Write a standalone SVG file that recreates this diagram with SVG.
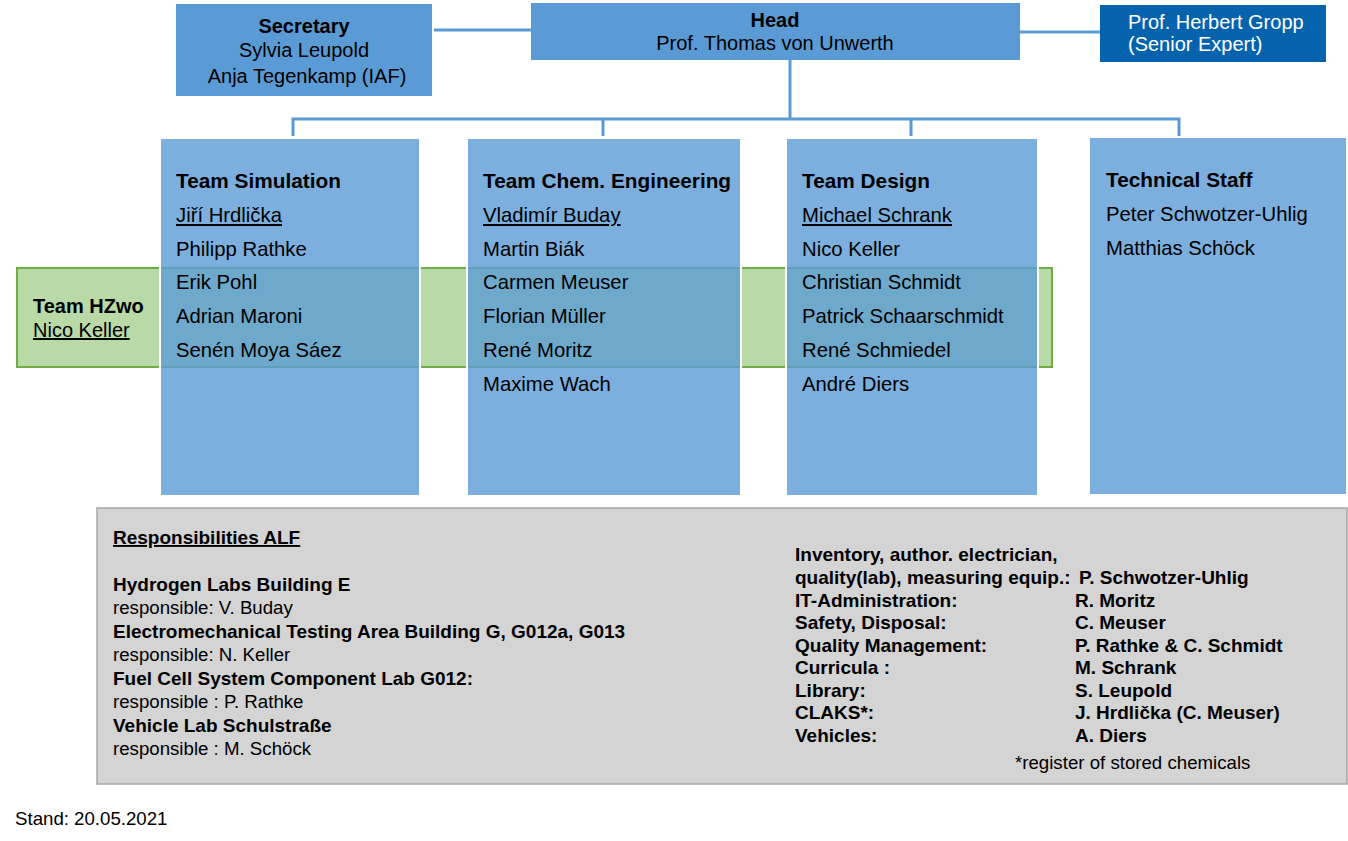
<svg xmlns="http://www.w3.org/2000/svg" width="1348" height="841" viewBox="0 0 1348 841">
<style>
text{font-family:"Liberation Sans",Arial,sans-serif;fill:#000}
.t{font-size:20px}
.n{font-size:20.3px}
.h{font-size:20.8px;font-weight:bold}
.b{font-weight:bold}
.u{text-decoration:underline}
.s{font-size:18.67px}
.sb{font-size:19px;font-weight:bold}
.w{fill:#fff}
.box{fill:#5b9bd5}
.team{fill:#5b9bd5;fill-opacity:0.8}
.gap{fill:none;stroke:#fff;stroke-width:2}
.conn{stroke:#5b9bd5;stroke-width:3;fill:none}
</style>
<rect width="1348" height="841" fill="#fff"/>
<g id="connectors">
<line class="conn" x1="434" y1="30" x2="531" y2="30"/>
<line class="conn" x1="1020" y1="32" x2="1100" y2="32"/>
<line class="conn" x1="790" y1="60" x2="790" y2="119"/>
<polyline class="conn" points="293,136 293,119 1179,119 1179,136"/>
<line class="conn" x1="603" y1="119" x2="603" y2="136"/>
<line class="conn" x1="911" y1="119" x2="911" y2="136"/>
</g>
<g id="secretary">
<rect class="box" x="176" y="4" width="256" height="92"/>
<text class="t b" x="304" y="33" text-anchor="middle">Secretary</text>
<text class="t" x="304" y="57" text-anchor="middle">Sylvia Leupold</text>
<text class="t" x="307" y="83" text-anchor="middle">Anja Tegenkamp (IAF)</text>
</g>
<g id="head">
<rect class="box" x="531" y="3" width="489" height="57"/>
<text class="t b" x="775" y="27" text-anchor="middle">Head</text>
<text class="t" x="775" y="50" text-anchor="middle">Prof. Thomas von Unwerth</text>
</g>
<g id="gropp">
<rect x="1100" y="5" width="226" height="57" fill="#0563ad"/>
<text class="t w" x="1128" y="29">Prof. Herbert Gropp</text>
<text class="t w" x="1128" y="51">(Senior Expert)</text>
</g>
<g id="team-hzwo">
<rect x="17" y="268" width="1035" height="99" fill="#b9d9a6" stroke="#70ad47" stroke-width="2"/>
<text class="t b" x="33" y="313" font-size="19.5">Team HZwo</text>
<text class="t u" x="33" y="337">Nico Keller</text>
</g>
<g id="team-simulation">
<rect class="gap" x="160" y="138" width="260" height="358"/>
<rect class="team" x="161" y="139" width="258" height="356"/>
<text class="h" x="176" y="188">Team Simulation</text>
<text class="n u" x="176" y="222">Jiří Hrdlička</text>
<text class="n" x="176" y="256">Philipp Rathke</text>
<text class="n" x="176" y="289">Erik Pohl</text>
<text class="n" x="176" y="323">Adrian Maroni</text>
<text class="n" x="176" y="357">Senén Moya Sáez</text>
</g>
<g id="team-chem">
<rect class="gap" x="467" y="138" width="274" height="358"/>
<rect class="team" x="468" y="139" width="272" height="356"/>
<text class="h" x="483" y="188">Team Chem. Engineering</text>
<text class="n u" x="483" y="222">Vladimír Buday</text>
<text class="n" x="483" y="256">Martin Biák</text>
<text class="n" x="483" y="289">Carmen Meuser</text>
<text class="n" x="483" y="323">Florian Müller</text>
<text class="n" x="483" y="357">René Moritz</text>
<text class="n" x="483" y="391">Maxime Wach</text>
</g>
<g id="team-design">
<rect class="gap" x="786" y="138" width="252" height="358"/>
<rect class="team" x="787" y="139" width="250" height="356"/>
<text class="h" x="802" y="188">Team Design</text>
<text class="n u" x="802" y="222">Michael Schrank</text>
<text class="n" x="802" y="256">Nico Keller</text>
<text class="n" x="802" y="289">Christian Schmidt</text>
<text class="n" x="802" y="323">Patrick Schaarschmidt</text>
<text class="n" x="802" y="357">René Schmiedel</text>
<text class="n" x="802" y="391">André Diers</text>
</g>
<g id="technical-staff">
<rect class="team" x="1090" y="138" width="256" height="356"/>
<text class="h" x="1106" y="187">Technical Staff</text>
<text class="n" x="1106" y="221">Peter Schwotzer-Uhlig</text>
<text class="n" x="1106" y="255">Matthias Schöck</text>
</g>
<g id="responsibilities">
<rect x="97" y="508" width="1250" height="276" fill="#d4d4d4" stroke="#a6a6a6" stroke-width="1.5"/>
<text class="sb u" x="113" y="544">Responsibilities ALF</text>
<text class="sb" x="113" y="591">Hydrogen Labs Building E</text>
<text class="s" x="113" y="614">responsible: V. Buday</text>
<text class="sb" x="113" y="638">Electromechanical Testing Area Building G, G012a, G013</text>
<text class="s" x="113" y="661">responsible: N. Keller</text>
<text class="sb" x="113" y="685">Fuel Cell System Component Lab G012:</text>
<text class="s" x="113" y="708">responsible : P. Rathke</text>
<text class="sb" x="113" y="732">Vehicle Lab Schulstraße</text>
<text class="s" x="113" y="755">responsible : M. Schöck</text>
<text class="sb" x="795" y="561">Inventory, author. electrician,</text>
<text class="sb" x="795" y="584">quality(lab), measuring equip.:</text>
<text class="sb" x="1079" y="584">P. Schwotzer-Uhlig</text>
<text class="sb" x="795" y="607">IT-Administration:</text>
<text class="sb" x="1075" y="607">R. Moritz</text>
<text class="sb" x="795" y="629">Safety, Disposal:</text>
<text class="sb" x="1075" y="629">C. Meuser</text>
<text class="sb" x="795" y="652">Quality Management:</text>
<text class="sb" x="1075" y="652">P. Rathke &amp; C. Schmidt</text>
<text class="sb" x="795" y="674">Curricula :</text>
<text class="sb" x="1075" y="674">M. Schrank</text>
<text class="sb" x="795" y="697">Library:</text>
<text class="sb" x="1075" y="697">S. Leupold</text>
<text class="sb" x="795" y="719">CLAKS*:</text>
<text class="sb" x="1075" y="719">J. Hrdlička (C. Meuser)</text>
<text class="sb" x="795" y="742">Vehicles:</text>
<text class="sb" x="1075" y="742">A. Diers</text>
<text class="s" x="1015" y="769">*register of stored chemicals</text>
</g>
<text class="s" x="15" y="825">Stand: 20.05.2021</text>
</svg>
